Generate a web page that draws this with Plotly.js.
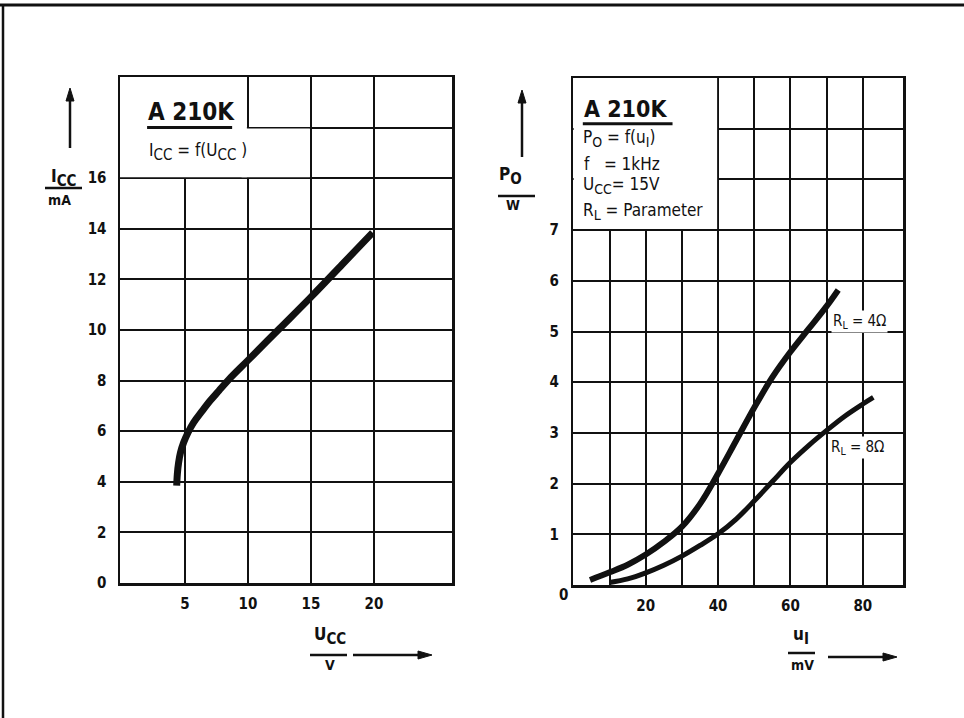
<!DOCTYPE html>
<html><head><meta charset="utf-8">
<script src="https://cdn.plot.ly/plotly-3.0.1.min.js"></script>
<style>html,body{margin:0;padding:0;background:#fff}</style>
</head><body><div id="chart" style="width:964px;height:718px"></div>
<script>
// ---- data ----
// Left chart: I_CC = f(U_CC)
const uccV  = [4.35, 4.4, 4.5, 4.65, 4.9, 5.25, 5.7, 6.3, 7.0, 7.7, 8.5, 10.0, 12.5, 15.0, 17.5, 19.9];
const iccMA = [3.85, 4.3, 4.75, 5.15, 5.55, 5.95, 6.35, 6.75, 7.2, 7.6, 8.05, 8.8, 10.05, 11.3, 12.6, 13.85];
// Right chart: P_O = f(u_I), R_L = 4 ohm and 8 ohm
const uI4 = [4.6, 10, 15, 20, 25, 30, 35, 40, 45, 50, 55, 60, 65, 70, 73.2];
const pO4 = [0.1, 0.25, 0.4, 0.6, 0.85, 1.15, 1.6, 2.2, 2.85, 3.5, 4.1, 4.6, 5.05, 5.5, 5.82];
const uI8 = [10, 15, 20, 25, 30, 35, 40, 45, 50, 55, 60, 65, 70, 75, 80, 82.9];
const pO8 = [0.05, 0.12, 0.24, 0.39, 0.57, 0.78, 1.01, 1.3, 1.66, 2.04, 2.42, 2.75, 3.05, 3.33, 3.57, 3.70];
// tick labels and extra grid values
const xTickL = [5, 10, 15, 20];
const yTickL = [0, 2, 4, 6, 8, 10, 12, 14, 16];
const yGridL = [18];
const xTickR = [20, 40, 60, 80];
const xGridR = [10, 30, 50, 70];
const yTickR = [1, 2, 3, 4, 5, 6, 7];
const yGridR = [8, 9];
const seriesNames = ['R<sub>L</sub> = 4Ω', 'R<sub>L</sub> = 8Ω'];

// ---- drawing ----
const W = 964, H = 718;
const px = v => v / W, py = v => 1 - v / H;
const FONT = 'DejaVu Sans Condensed, Liberation Sans Narrow, DejaVu Sans, sans-serif';
const ink = '#111';

const traces = [
  {x: uccV, y: iccMA, xaxis: 'x', yaxis: 'y', mode: 'lines', hoverinfo: 'skip',
   line: {color: ink, width: 7, shape: 'spline', smoothing: 1}},
  {x: uI4, y: pO4, xaxis: 'x2', yaxis: 'y2', mode: 'lines', hoverinfo: 'skip', name: seriesNames[0],
   line: {color: ink, width: 6, shape: 'spline', smoothing: 1}},
  {x: uI8, y: pO8, xaxis: 'x2', yaxis: 'y2', mode: 'lines', hoverinfo: 'skip', name: seriesNames[1],
   line: {color: ink, width: 5, shape: 'spline', smoothing: 1}}
];

const tickFont = {family: FONT, size: 15, color: ink, weight: 'bold'};
const axBase = {showline: true, mirror: true, linecolor: ink, linewidth: 2.5,
  showgrid: true, gridcolor: ink, gridwidth: 2, zeroline: false, ticks: '',
  tickfont: tickFont, fixedrange: true, tickmode: 'array', ticklabelstandoff: 8};
const minorGrid = vals => ({tickmode: 'array', tickvals: vals, showgrid: true,
  gridcolor: ink, gridwidth: 2, ticks: ''});

const txt = (text, xref, yref, x, y, size, extra) => Object.assign({
  text, xref, yref, x, y, showarrow: false, xanchor: 'left', yanchor: 'middle',
  font: {family: FONT, size, color: ink}}, extra || {});
const ctext = (text, x, y, size) => ({text, xref: 'paper', yref: 'paper', x: px(x), y: py(y),
  showarrow: false, xanchor: 'center', yanchor: 'middle',
  font: {family: FONT, size, color: ink, weight: 'bold'}});
const pline = (x0, x1, y, w) => ({type: 'line', xref: 'paper', yref: 'paper',
  x0: px(x0), x1: px(x1), y0: py(y), y1: py(y), line: {color: ink, width: w}});
const vline = (x, y0, y1, w) => ({type: 'line', xref: 'paper', yref: 'paper',
  x0: px(x), x1: px(x), y0: py(y0), y1: py(y1), line: {color: ink, width: w}});
const poly = pts => ({type: 'path', xref: 'paper', yref: 'paper', fillcolor: ink,
  line: {color: ink, width: 1},
  path: 'M' + pts.map(p => px(p[0]) + ',' + py(p[1])).join(' L') + ' Z'});
const arrowUp = (x, yTip, yTail) => [vline(x, yTip + 10, yTail, 2.5),
  poly([[x, yTip], [x - 4, yTip + 13], [x + 4, yTip + 13]])];
const arrowRight = (xTail, xTip, y) => [pline(xTail, xTip - 10, y, 2.5),
  poly([[xTip, y], [xTip - 14, y - 4], [xTip - 14, y + 4]])];
const sub = (s, size) => '<sub><span style="font-size:' + size + 'px">' + s + '</span></sub>';
const whiteBox = (xref, yref, x0, x1, y0, y1) => ({type: 'rect', xref, yref, x0, x1, y0, y1,
  fillcolor: '#fff', line: {width: 0}, layer: 'between'});

const layout = {
  width: W, height: H, margin: {l: 0, r: 0, t: 0, b: 0},
  paper_bgcolor: '#fff', plot_bgcolor: '#fff', showlegend: false,
  font: {family: FONT, color: ink},
  xaxis: Object.assign({}, axBase, {domain: [px(120), px(452)], range: [-0.15, 26.2],
    tickvals: xTickL, ticktext: xTickL.map(String), anchor: 'y', ticklabelstandoff: 5}),
  yaxis: Object.assign({}, axBase, {domain: [py(583), py(77)], range: [0, 20],
    tickvals: yTickL, ticktext: yTickL.map(String), anchor: 'x', minor: minorGrid(yGridL)}),
  xaxis2: Object.assign({}, axBase, {domain: [px(573.4), px(903)], range: [0, 91.1],
    tickvals: xTickR, ticktext: xTickR.map(String), anchor: 'y2', ticklabelstandoff: 5,
    minor: minorGrid(xGridR)}),
  yaxis2: Object.assign({}, axBase, {domain: [py(585), py(78)], range: [0, 10],
    tickvals: yTickR, ticktext: yTickR.map(String), anchor: 'x2', ticklabelstandoff: 9,
    minor: minorGrid(yGridR)}),
  shapes: [
    // white title areas (L-shaped on the left chart, rectangular on the right)
    whiteBox('x', 'y', -0.15, 9.92, 16.04, 20),
    whiteBox('x', 'y', 9.5, 14.92, 16.04, 17.96),
    whiteBox('x2', 'y2', 0, 39.72, 7.02, 10),
    {type: 'line', xref: 'x', yref: 'y', x0: 2.0, x1: 8.75, y0: 18, y1: 18, line: {color: ink, width: 3}},
    {type: 'line', xref: 'x2', yref: 'y2', x0: 2.6, x1: 27.4, y0: 9.1, y1: 9.1, line: {color: ink, width: 3}},
    pline(45, 82, 188, 2.5), pline(310, 347, 655, 2.5),
    pline(498, 535, 196, 2.5), pline(788, 815, 653, 2.5),
    pline(0, 964, 5, 3), vline(3, 5, 718, 2.5)
  ].concat(arrowUp(70, 88, 148), arrowRight(353, 432, 655),
           arrowUp(522, 90, 157), arrowRight(828, 897, 657)),
  annotations: [
    // left chart box
    txt('<b>A 210K</b>', 'x', 'y', 1.95, 18.6, 24),
    txt('I' + sub('CC', 15) + ' = f(U' + sub('CC', 15) + ' )', 'x', 'y', 2.0, 17.05, 17),
    // right chart box
    txt('<b>A 210K</b>', 'x2', 'y2', 2.5, 9.38, 23),
    txt('P' + sub('O', 14) + ' = f(u' + sub('I', 14) + ')', 'x2', 'y2', 2.2, 8.8, 17),
    txt('f&nbsp;&nbsp;&nbsp;= 1kHz', 'x2', 'y2', 2.4, 8.3, 17),
    txt('U' + sub('CC', 14) + '= 15V', 'x2', 'y2', 2.2, 7.88, 17),
    txt('R' + sub('L', 14) + ' = Parameter', 'x2', 'y2', 2.2, 7.36, 17),
    // curve labels
    txt(seriesNames[0], 'x2', 'y2', 71.3, 5.2, 15, {bgcolor: '#fff'}),
    txt(seriesNames[1], 'x2', 'y2', 70.6, 2.72, 15, {bgcolor: '#fff'}),
    // origin of right chart
    {text: '0', xref: 'paper', yref: 'paper', x: px(563), y: py(595), showarrow: false,
     font: tickFont, xanchor: 'center', yanchor: 'middle'},
    // axis titles
    ctext('I' + sub('CC', 15), 64, 178, 17), ctext('mA', 59, 200, 14),
    ctext('U' + sub('CC', 15), 330, 636, 17), ctext('V', 330, 665, 14),
    ctext('P' + sub('O', 15), 510, 176, 17), ctext('W', 513, 205, 14),
    ctext('u' + sub('I', 15), 801, 636, 17), ctext('mV', 802, 665, 14)
  ]
};

Plotly.newPlot('chart', traces, layout, {displayModeBar: false, staticPlot: true});
</script></body></html>
